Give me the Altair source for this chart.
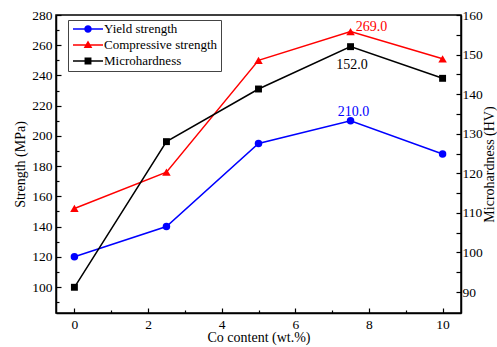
import altair as alt
import pandas as pd

# ---- data ----
co = [0, 2.5, 5, 7.5, 10]
yield_strength = [120, 140, 195, 210, 188]
compressive = [152, 176, 250, 269, 251]
microhardness = [91.2, 128, 141.3, 152, 144]

series_names = ["Yield strength", "Compressive strength", "Microhardness"]
series_colors = ["#0000FF", "#FF0000", "#000000"]

x_ticks = list(range(0, 11))
left_ticks = list(range(90, 281, 10))
right_ticks = list(range(90, 161, 5))

FONT = "Liberation Serif"

df = pd.DataFrame({
    "co": co,
    "ys": yield_strength,
    "cs": compressive,
    "hv": microhardness,
})

x_scale = alt.Scale(domain=[-0.5, 10.5], nice=False, zero=False)
left_scale = alt.Scale(domain=[82.8, 280], nice=False, zero=False)
right_scale = alt.Scale(domain=[84.7, 160], nice=False, zero=False)

common_axis = dict(
    grid=False,
    domainColor="black", domainWidth=1.5,
    tickColor="black", tickWidth=1.2,
    labelFont=FONT, labelFontSize=13.5, labelColor="black",
    titleFont=FONT, titleFontSize=14, titleColor="black", titleFontWeight="normal",
)

x_axis = alt.Axis(
    title="Co content (wt.%)",
    values=x_ticks,
    labelExpr="datum.value % 2 === 0 ? datum.label : ''",
    tickSize={"condition": {"test": "datum.value % 2 === 0", "value": -5}, "value": -3},
    labelPadding=9,
    titlePadding=0,
    **common_axis,
)
left_axis = alt.Axis(
    title="Strength (MPa)",
    orient="left",
    values=left_ticks,
    labelExpr="datum.value % 20 === 0 ? datum.label : ''",
    tickSize={"condition": {"test": "datum.value % 20 === 0", "value": -5}, "value": -3},
    labelPadding=9,
    titlePadding=4,
    **common_axis,
)
right_axis = alt.Axis(
    title="Microhardness (HV)",
    orient="right",
    values=right_ticks,
    labelExpr="datum.value % 10 === 0 ? datum.label : ''",
    tickSize={"condition": {"test": "datum.value % 10 === 0", "value": -5}, "value": -5},
    labelPadding=6,
    titlePadding=14,
    titleAngle=270,
    **common_axis,
)

base = alt.Chart(df)


def series(field, color, shape, size, yscale, yaxis):
    x = alt.X("co:Q", scale=x_scale, axis=x_axis)
    y = alt.Y(f"{field}:Q", scale=yscale, axis=yaxis)
    line = base.mark_line(color=color, strokeWidth=1.5).encode(x=x, y=y)
    pts = base.mark_point(shape=shape, filled=True, color=color, size=size, opacity=1).encode(x=x, y=y)
    return line, pts


ys_line, ys_pts = series("ys", series_colors[0], "circle", 56, left_scale, left_axis)
cs_line, cs_pts = series("cs", series_colors[1], "triangle-up", 72, left_scale, left_axis)
hv_line, hv_pts = series("hv", series_colors[2], "square", 48, right_scale, right_axis)


def label(field, color, dx, dy, yscale, yaxis):
    return base.transform_filter("datum.co === 7.5").mark_text(
        font=FONT, fontSize=14, color=color, dx=dx, dy=dy, baseline="middle", align="center"
    ).encode(
        x=alt.X("co:Q", scale=x_scale, axis=x_axis),
        y=alt.Y(f"{field}:Q", scale=yscale, axis=yaxis),
        text=alt.Text(f"{field}:Q", format=".1f"),
    )


ys_lab = label("ys", series_colors[0], 3, -9, left_scale, left_axis)
cs_lab = label("cs", series_colors[1], 21, -5, left_scale, left_axis)
hv_lab = label("hv", series_colors[2], 1.5, 18, right_scale, right_axis)

left_group = alt.layer(ys_line, cs_line, ys_pts, cs_pts, ys_lab, cs_lab)
right_group = alt.layer(hv_line, hv_pts, hv_lab)

# legend symbols: a short line with the marker in the middle
legend_paths = [
    "M-1,-0.05H1V0.05H-1Z M0.25,0A0.25,0.25,0,1,1,-0.25,0A0.25,0.25,0,1,1,0.25,0Z",
    "M-1,-0.05H1V0.05H-1Z M0,-0.3L0.29,0.2L-0.29,0.2Z",
    "M-1,-0.05H1V0.05H-1Z M-0.23,-0.23H0.23V0.23H-0.23Z",
]
legend_df = pd.DataFrame({"series": series_names})
leg = alt.Legend(
    title=None, orient="none", legendX=12, legendY=5,
    strokeColor="#444444", fillColor="white", padding=3,
    symbolSize=900, clipHeight=12, rowPadding=3, symbolStrokeWidth=0,
    labelFont=FONT, labelFontSize=13, labelColor="black", labelOffset=1,
    symbolOffset=2,
)
legend_layer = alt.Chart(legend_df).transform_filter("false").mark_point(
    filled=True, opacity=1
).encode(
    color=alt.Color("series:N", scale=alt.Scale(domain=series_names, range=series_colors), legend=leg),
    shape=alt.Shape("series:N", scale=alt.Scale(domain=series_names, range=legend_paths), legend=leg),
)

chart = alt.layer(left_group, right_group, legend_layer).resolve_scale(
    y="independent"
).properties(
    width=405, height=298,
    autosize=alt.AutoSizeParams(type="none"),
    padding={"left": 56, "top": 15, "right": 36, "bottom": 34},
).configure(font=FONT).configure_axis(
    labelFont=FONT, titleFont=FONT
).configure_view(stroke="black", strokeWidth=1.5)

chart.save("out.html", embed_options={"renderer": "svg", "actions": False})
